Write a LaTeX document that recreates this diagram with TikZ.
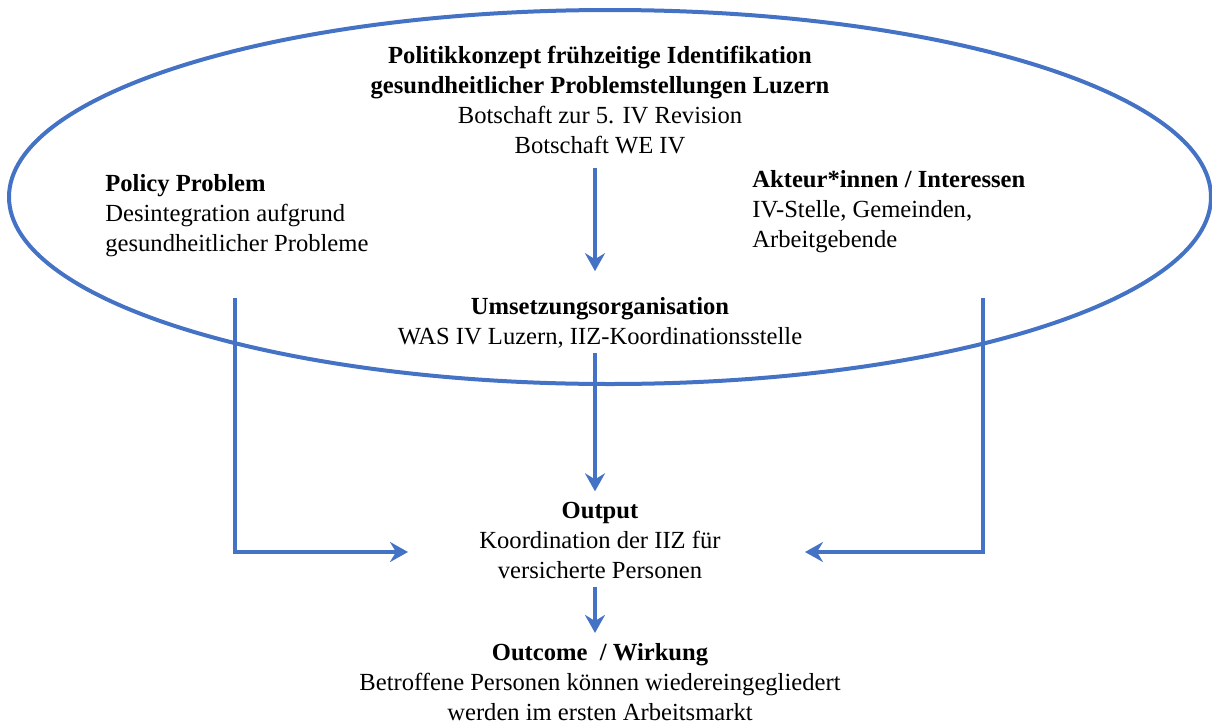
\documentclass[tikz,border=0pt]{standalone}
\usepackage{fontspec}
\setmainfont{Liberation Serif}
\usetikzlibrary{arrows.meta}
\definecolor{linie}{HTML}{4472C4}
\tikzset{
  blau/.style={draw=linie,line width=2pt},
  pfeil/.style={blau,-{Stealth[length=9pt,width=10pt,inset=3pt]}},
  feld/.style={align=center,inner sep=2pt},
}
\begin{document}
\begin{tikzpicture}[x=0.5pt,y=-0.5pt,font=\fontsize{12.3}{15}\selectfont]
\useasboundingbox (0,0) rectangle (1212,724);
%ellipse
\draw[blau] (610,197) ellipse [x radius=300.5pt,y radius=93.5pt];
%texts
\node[feld] (konzept) at (600,100) {\textbf{Politikkonzept frühzeitige Identifikation}\\\textbf{gesundheitlicher Problemstellungen Luzern}\\Botschaft zur 5. IV Revision\\Botschaft WE IV};
\node[feld,align=left,anchor=west] (problem) at (101,216) {\textbf{Policy Problem}\\Desintegration aufgrund\\gesundheitlicher Probleme};
\node[feld,align=left,anchor=west] (akteure) at (748,212) {\textbf{Akteur*innen / Interessen}\\IV-Stelle, Gemeinden,\\Arbeitgebende};
\node[feld] (umsetzung) at (600,323) {\textbf{Umsetzungsorganisation}\\WAS IV Luzern, IIZ-Koordinationsstelle};
\node[feld] (output) at (600,540) {\textbf{Output}\\Koordination der IIZ für\\versicherte Personen};
\node[feld] (outcome) at (600,682) {\textbf{Outcome \ / Wirkung}\\Betroffene Personen können wiedereingegliedert\\werden im ersten Arbeitsmarkt};
%arrows
\coordinate (lStart) at (235,298);
\coordinate (lEnde) at (408,552);
\coordinate (rStart) at (983,298);
\coordinate (rEnde) at (805,552);
\draw[pfeil,shorten <=5pt,shorten >=11pt] ([xshift=-2.5pt]konzept.south) -- ([xshift=-2.5pt]umsetzung.north);
\draw[pfeil,shorten >=3pt] ([xshift=-2.5pt]umsetzung.south) -- ([xshift=-2.5pt]output.north);
\draw[pfeil,shorten <=2pt,shorten >=3pt] ([xshift=-2.5pt]output.south) -- ([xshift=-2.5pt]outcome.north);
\draw[pfeil] (lStart) |- (lEnde);
\draw[pfeil] (rStart) |- (rEnde);
\end{tikzpicture}
\end{document}
